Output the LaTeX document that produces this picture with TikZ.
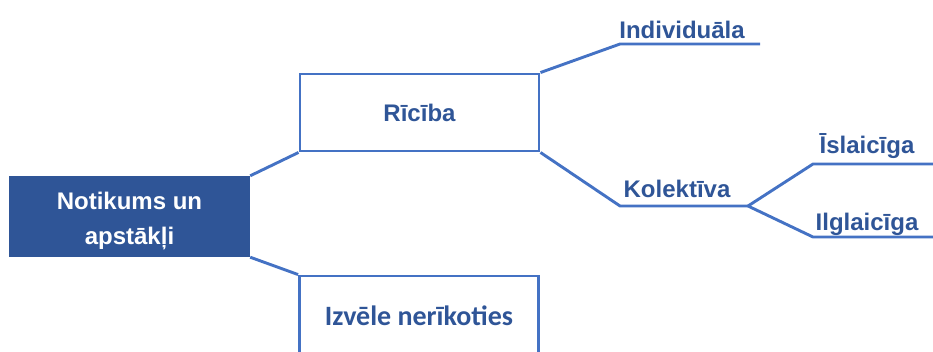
\documentclass[tikz,border=0pt]{standalone}
\usepackage{fontspec}
\setmainfont{Liberation Sans}
\newfontfamily\calib{Carlito}
\definecolor{lineblue}{HTML}{4472C4}
\definecolor{darkblue}{HTML}{2F5597}
\tikzset{
  link/.style={draw=lineblue,line width=2.9pt,line join=miter},
  outbox/.style={link,rectangle,minimum width=239pt,minimum height=77pt,
    font=\fontsize{24}{28}\selectfont\bfseries,text=darkblue},
  lbl/.style={anchor=base,inner sep=0pt,text=darkblue,
    font=\fontsize{24}{28}\selectfont\bfseries}
}
\begin{document}
\begin{tikzpicture}[x=1pt,y=-1pt]
\useasboundingbox (0,0) rectangle (933,351);
% main event box
\node[fill=darkblue,minimum width=241pt,minimum height=81pt] (event) at (129.5,216.5) {};
\node[align=center,text=white,font=\fontsize{24}{35}\selectfont\bfseries,yshift=-4pt]
  (eventtxt) at (event.center) {Notikums un\\apstākļi};
\node[outbox] (ricib) at (419.5,112.5) {Rīcība};
\node[outbox,minimum height=80pt,font=\fontsize{28}{32}\selectfont\calib\bfseries]
  (izvele) at (419,316) {Izvēle nerīkoties};
% underlines
\coordinate (indA) at (620,44);  \coordinate (indB) at (760,44);
\coordinate (kolA) at (620,206); \coordinate (kolB) at (748,206);
\coordinate (isA) at (813,164);  \coordinate (isB) at (936,164);
\coordinate (ilA) at (813,237);  \coordinate (ilB) at (936,237);
\node[lbl] (indiv) at (682,38) {Individuāla};
\node[lbl] (kolek) at (677,197) {Kolektīva};
\node[lbl] (islaic) at (867,153) {Īslaicīga};
\node[lbl] (ilglaic) at (867,230) {Ilglaicīga};
% connectors
\draw[link] (event.north east) -- (ricib.south west);
\draw[link] (event.south east) -- (izvele.north west);
\draw[link] (ricib.north east) -- (indA) -- (indB);
\draw[link] (ricib.south east) -- (kolA) -- (kolB);
\draw[link] (kolB) -- (isA) -- (isB);
\draw[link] (kolB) -- (ilA) -- (ilB);
\end{tikzpicture}
\end{document}
